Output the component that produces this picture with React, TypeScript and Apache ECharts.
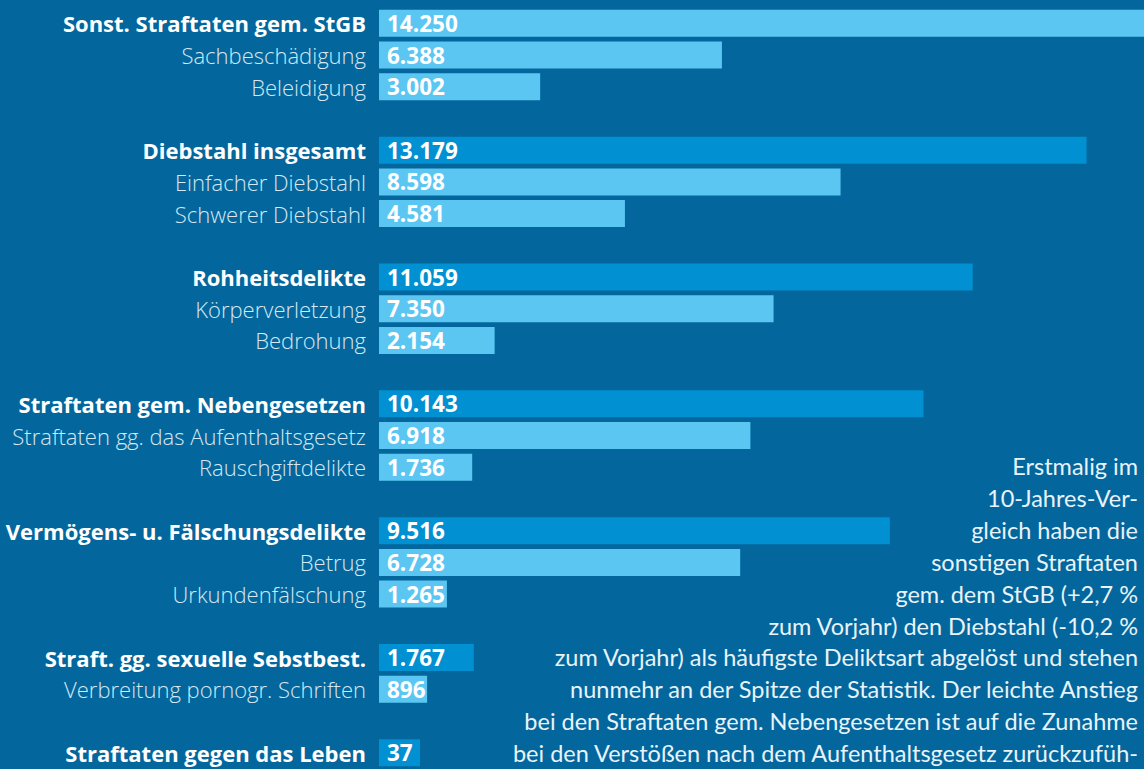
import React, { useEffect, useRef } from "react";
import * as echarts from "echarts";

const mainLabels = [
  "Sonst. Straftaten gem. StGB",
  "Diebstahl insgesamt",
  "Rohheitsdelikte",
  "Straftaten gem. Nebengesetzen",
  "Vermögens- u. Fälschungsdelikte",
  "Straft. gg. sexuelle Sebstbest.",
  "Straftaten gegen das Leben",
];
const mainValues = [14250, 13179, 11059, 10143, 9516, 1767, 37];
const subLabels = [
  ["Sachbeschädigung", "Beleidigung"],
  ["Einfacher Diebstahl", "Schwerer Diebstahl"],
  ["Körperverletzung", "Bedrohung"],
  ["Straftaten gg. das Aufenthaltsgesetz", "Rauschgiftdelikte"],
  ["Betrug", "Urkundenfälschung"],
  ["Verbreitung pornogr. Schriften"],
  [],
];
const subValues = [
  [6388, 3002],
  [8598, 4581],
  [7350, 2154],
  [6918, 1736],
  [6728, 1265],
  [896],
  [],
];
const paragraphLines = [
  "Erstmalig im",
  "10-Jahres-Ver-",
  "gleich haben die",
  "sonstigen Straftaten",
  "gem. dem StGB (+2,7 %",
  "zum Vorjahr) den Diebstahl (-10,2 %",
  "zum Vorjahr) als häufigste Deliktsart abgelöst und stehen",
  "nunmehr an der Spitze der Statistik. Der leichte Anstieg",
  "bei den Straftaten gem. Nebengesetzen ist auf die Zunahme",
  "bei den Verstößen nach dem Aufenthaltsgesetz zurückzufüh-",
];

const BG = "#03679d";
const LIGHT = "#5bc6f2";
const DARK = "#0190d1";
const FONT = "'Open Sans', 'Noto Sans', sans-serif";
const PFONT = "Lato, 'Open Sans', sans-serif";

export default function App() {
  const ref = useRef<HTMLDivElement>(null);
  useEffect(() => {
    if (!ref.current) return;
    const chart = echarts.init(ref.current, undefined, { renderer: "svg" });

    const cats: string[] = [];
    const data: any[] = [];
    const mainSet = new Set(mainLabels);
    mainLabels.forEach((m, gi) => {
      if (gi > 0) {
        cats.push("");
        data.push(null);
      }
      cats.push(m);
      data.push({
        value: mainValues[gi],
        itemStyle: { color: gi === 0 ? LIGHT : DARK },
      });
      subLabels[gi].forEach((s, si) => {
        cats.push(s);
        data.push({ value: subValues[gi][si], itemStyle: { color: LIGHT } });
      });
    });

    const lineTop = 466;
    const lineGap = 31.9;
    const graphics = paragraphLines.map((t, i) => ({
      type: "text",
      x: 1138,
      y: lineTop + i * lineGap,
      style: {
        text: t,
        fill: "#e8f3fa",
        font: `23.5px ${PFONT}`,
        textAlign: "right",
        textVerticalAlign: "middle",
      },
    }));

    chart.setOption({
      animation: false,
      backgroundColor: BG,
      grid: { left: 379, right: 0, top: 7.5, bottom: 0.5, containLabel: false },
      xAxis: {
        type: "value",
        min: 0,
        max: 14250,
        show: false,
      },
      yAxis: {
        type: "category",
        inverse: true,
        data: cats,
        axisLine: { show: false },
        axisTick: { show: false },
        splitLine: { show: false },
        axisLabel: {
          margin: 13,
          interval: 0,
          formatter: (v: string) =>
            v === "" ? "" : mainSet.has(v) ? `{b|${v}}` : `{l|${v}}`,
          rich: {
            b: {
              fontFamily: FONT,
              fontWeight: "bold",
              fontSize: 22,
              color: "#ffffff",
            },
            l: {
              fontFamily: FONT,
              fontWeight: 300,
              fontSize: 22,
              color: "#d5e8f4",
            },
          },
        },
      },
      series: [
        {
          type: "bar",
          data,
          barWidth: 27,
          barMinHeight: 41,
          label: {
            show: true,
            position: "insideLeft",
            distance: 8,
            color: "#ffffff",
            fontFamily: FONT,
            fontWeight: "bold",
            fontSize: 22.5,
            formatter: (p: any) => Number(p.value).toLocaleString("de-DE"),
          },
        },
      ],
      graphic: graphics,
    });
    return () => chart.dispose();
  }, []);
  return (
    <div
      ref={ref}
      style={{ position: "absolute", left: 0, top: 0, width: 1144, height: 769 }}
    />
  );
}
